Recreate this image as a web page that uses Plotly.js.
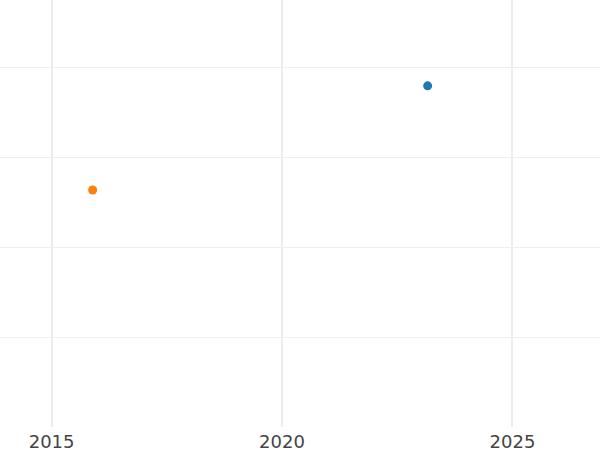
<!DOCTYPE html>
<html>
<head>
<meta charset="utf-8">
<script src="https://cdn.plot.ly/plotly-3.0.1.min.js"></script>
<style>html,body{margin:0;padding:0;background:#fff;}#chart{width:600px;height:450px;}</style>
</head>
<body>
<div id="chart"></div>
<script>
const seriesNames = ['A', 'B'];
const seriesX = [[2023.16], [2015.89]];
const seriesY = [[38.0], [26.4]];
const seriesColors = ['#1f77b4', '#ff7f0e'];
const xTicks = [2015, 2020, 2025];
const yTicks = [10, 20, 30, 40];

const traces = seriesNames.map((n, i) => ({
  type: 'scatter', mode: 'markers', name: n,
  x: seriesX[i], y: seriesY[i],
  marker: {color: seriesColors[i], size: 9}
}));

const layout = {
  width: 600, height: 450,
  margin: {l: 0, r: 0, t: 0, b: 23},
  paper_bgcolor: '#fff', plot_bgcolor: '#fff',
  showlegend: false,
  font: {family: 'DejaVu Sans', size: 18, color: '#444'},
  xaxis: {
    range: [2013.88, 2026.9], tickvals: xTicks, ticktext: xTicks.map(String),
    showgrid: true, gridcolor: '#ececec', gridwidth: 2,
    zeroline: false, showline: false, ticks: '', automargin: false,
    ticklabelstandoff: 2
  },
  yaxis: {
    range: [0, 47.56], tickvals: yTicks, showticklabels: false,
    showgrid: true, gridcolor: '#eeeeee', gridwidth: 1,
    zeroline: false, showline: false, ticks: '', automargin: false
  }
};
Plotly.newPlot('chart', traces, layout, {displayModeBar: false, staticPlot: true});
</script>
</body>
</html>
